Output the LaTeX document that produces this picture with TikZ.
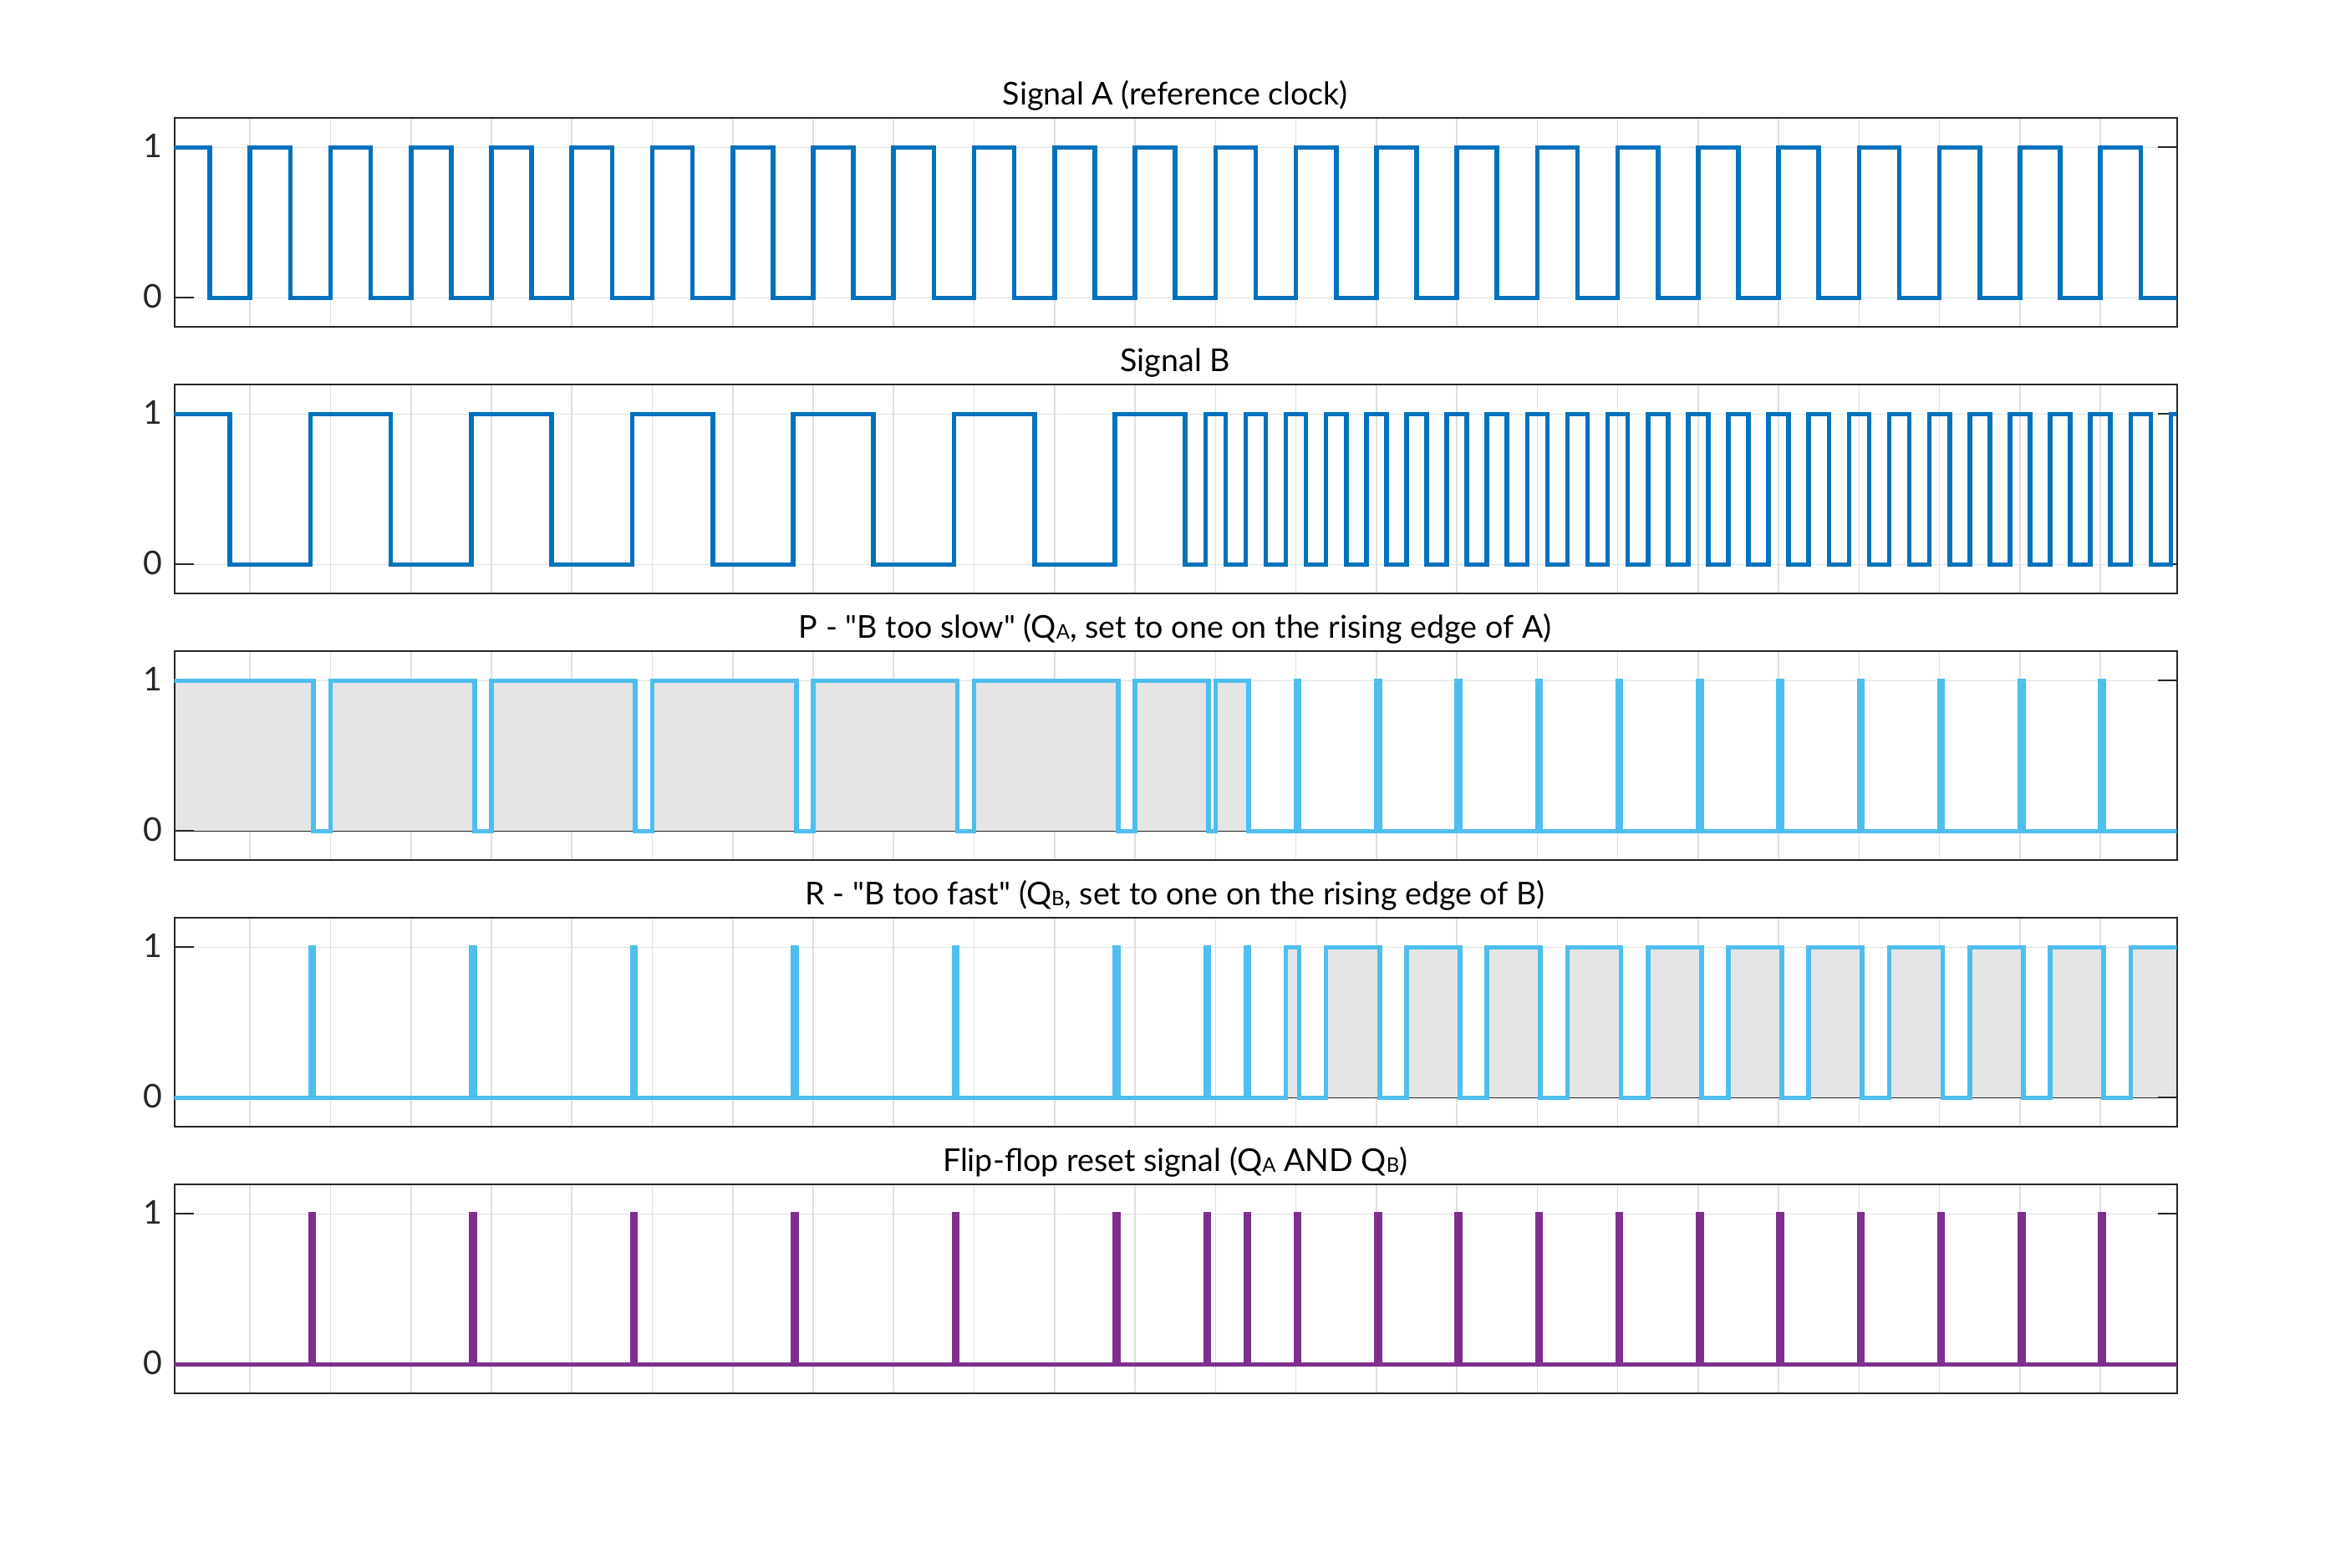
\documentclass[tikz,border=0pt]{standalone}
\usepackage{fontspec}
\setmainfont{Lato}[Ligatures=TeXOff]

\definecolor{sigblue}{RGB}{0,114,189}
\definecolor{sigcyan}{RGB}{77,190,238}
\definecolor{sigpurple}{RGB}{126,47,142}
\definecolor{areagray}{RGB}{229,229,229}
\definecolor{gridgray}{RGB}{223,223,223}
\definecolor{axisgray}{RGB}{38,38,38}

\tikzset{every picture/.style={line width=0.75pt},
  grid line/.style={draw=gridgray, line width=0.4pt},
  axis box/.style={draw=axisgray, line width=0.5pt},
  wave/.style={line width=1.4pt, line join=miter},
  base line/.style={draw=axisgray, line width=0.4pt},
  panel title/.style={anchor=base, inner sep=0pt, font=\fontsize{9.4}{11}\selectfont},
  tick label/.style={anchor=east, inner sep=0pt, text=axisgray, font=\fontsize{9.8}{11}\selectfont}}

% small index letter as in the titles
\newcommand{\idx}[1]{\raisebox{-0.3pt}{\fontsize{6}{7}\selectfont #1}}
% grid of one panel
\newcommand{\panelgrid}{%
  \foreach \g in {1,...,24} {\draw[grid line] (\g,-0.195) -- (\g,1.195);}
  \draw[grid line] (0.058,0) -- (24.949,0) (0.058,1) -- (24.949,1);}
% box, ticks and labels of one panel
\newcommand{\panelframe}[1]{%
  \draw[axis box] (0.058,-0.195) rectangle (24.949,1.195);
  \draw[axis box] (0.058,0) -- (0.297,0) (0.058,1) -- (0.297,1) (24.71,0) -- (24.949,0) (24.71,1) -- (24.949,1);
  \node[tick label] (#1zero) at (-0.07,0.01) {0};
  \node[tick label] (#1one) at (-0.07,1.01) {1};}
\newcommand{\panelclip}{\clip (0.058,-0.195) rectangle (24.949,1.195);}

\begin{document}
\begin{tikzpicture}[x=24.065pt,y=45pt]
\useasboundingbox (-2.1082,1.9794) rectangle (27.1147,-8.4372);

%Panel: Signal A
\begin{scope}
\panelgrid
\panelframe{sa}
\begin{scope}
\panelclip
\draw[wave, sigblue] (0,1) -- (0.5,1) -- (0.5,0) \foreach \k in {1,...,24} { -- (\k,0) -- (\k,1) -- (\k+0.5,1) -- (\k+0.5,0) } -- (25,0);
\end{scope}
% Text Node
\node[panel title] (titleA) at (12.5,1.285) {Signal A (reference clock)};
\end{scope}

%Panel: Signal B
\begin{scope}[shift={(0,-1.7722)}]
\panelgrid
\panelframe{sb}
\begin{scope}
\panelclip
\draw[wave, sigblue] (0,1) -- (0.75,1) -- (0.75,0) \foreach \k in {1.75,3.75,5.75,7.75,9.75} { -- (\k,0) -- (\k,1) -- (\k+1,1) -- (\k+1,0) } -- (11.75,0) -- (11.75,1) -- (12.625,1) -- (12.625,0) \foreach \j in {0,...,23} { -- (12.875+0.5*\j,0) -- (12.875+0.5*\j,1) -- (13.125+0.5*\j,1) -- (13.125+0.5*\j,0) } -- (24.875,0) -- (24.875,1) -- (25,1);
\end{scope}
% Text Node
\node[panel title] (titleB) at (12.5,1.285) {Signal B};
\end{scope}

%Panel: P
\begin{scope}[shift={(0,-3.5444)}]
\panelgrid
\fill[areagray] (0.058,0) rectangle (1.79,1);
\foreach \k in {2,4,6,8,10} {\fill[areagray] (\k,0) rectangle (\k+1.79,1);}
\fill[areagray] (12,0) rectangle (12.915,1) (13,0) rectangle (13.415,1);
\panelframe{sp}
\draw[base line] (0.058,0) -- (24.949,0);
\begin{scope}
\panelclip
\draw[wave, sigcyan] (0,1) \foreach \k in {1.75,3.75,5.75,7.75,9.75,11.75} { -- (\k+0.04,1) -- (\k+0.04,0) -- (\k+0.25,0) -- (\k+0.25,1) } -- (12.915,1) -- (12.915,0) -- (13,0) -- (13,1) -- (13.415,1) -- (13.415,0) \foreach \n in {14,...,24} { -- (\n,0) -- (\n,1) -- (\n+0.04,1) -- (\n+0.04,0) } -- (25,0);
\end{scope}
% Text Node
\node[panel title] (titleP) at (12.5,1.285) {P - "B too slow" (Q\idx{A}, set to one on the rising edge of A)};
\end{scope}

%Panel: R
\begin{scope}[shift={(0,-5.3167)}]
\panelgrid
\fill[areagray] (13.875,0) rectangle (14.04,1) (24.375,0) rectangle (24.949,1);
\foreach \n in {15,...,24} {\fill[areagray] (\n-0.625,0) rectangle (\n+0.04,1);}
\panelframe{sr}
\draw[base line] (0.058,0) -- (24.949,0);
\begin{scope}
\panelclip
\draw[wave, sigcyan] (0,0) \foreach \k in {1.75,3.75,5.75,7.75,9.75,11.75,12.875,13.375} { -- (\k,0) -- (\k,1) -- (\k+0.04,1) -- (\k+0.04,0) } -- (13.875,0) -- (13.875,1) -- (14.04,1) -- (14.04,0) \foreach \n in {15,...,24} { -- (\n-0.625,0) -- (\n-0.625,1) -- (\n+0.04,1) -- (\n+0.04,0) } -- (24.375,0) -- (24.375,1) -- (25,1);
\end{scope}
% Text Node
\node[panel title] (titleR) at (12.5,1.285) {R - "B too fast" (Q\idx{B}, set to one on the rising edge of B)};
\end{scope}

%Panel: reset
\begin{scope}[shift={(0,-7.0889)}]
\panelgrid
\panelframe{sx}
\begin{scope}
\panelclip
\draw[wave, sigpurple] (0,0) \foreach \k in {1.75,3.75,5.75,7.75,9.75,11.75,12.875,13.375,14,15,16,17,18,19,20,21,22,23,24} { -- (\k,0) -- (\k,1) -- (\k+0.04,1) -- (\k+0.04,0) } -- (25,0);
\end{scope}
% Text Node
\node[panel title] (titleX) at (12.5,1.285) {Flip-flop reset signal (Q\idx{A} AND Q\idx{B})};
\end{scope}

\end{tikzpicture}
\end{document}
